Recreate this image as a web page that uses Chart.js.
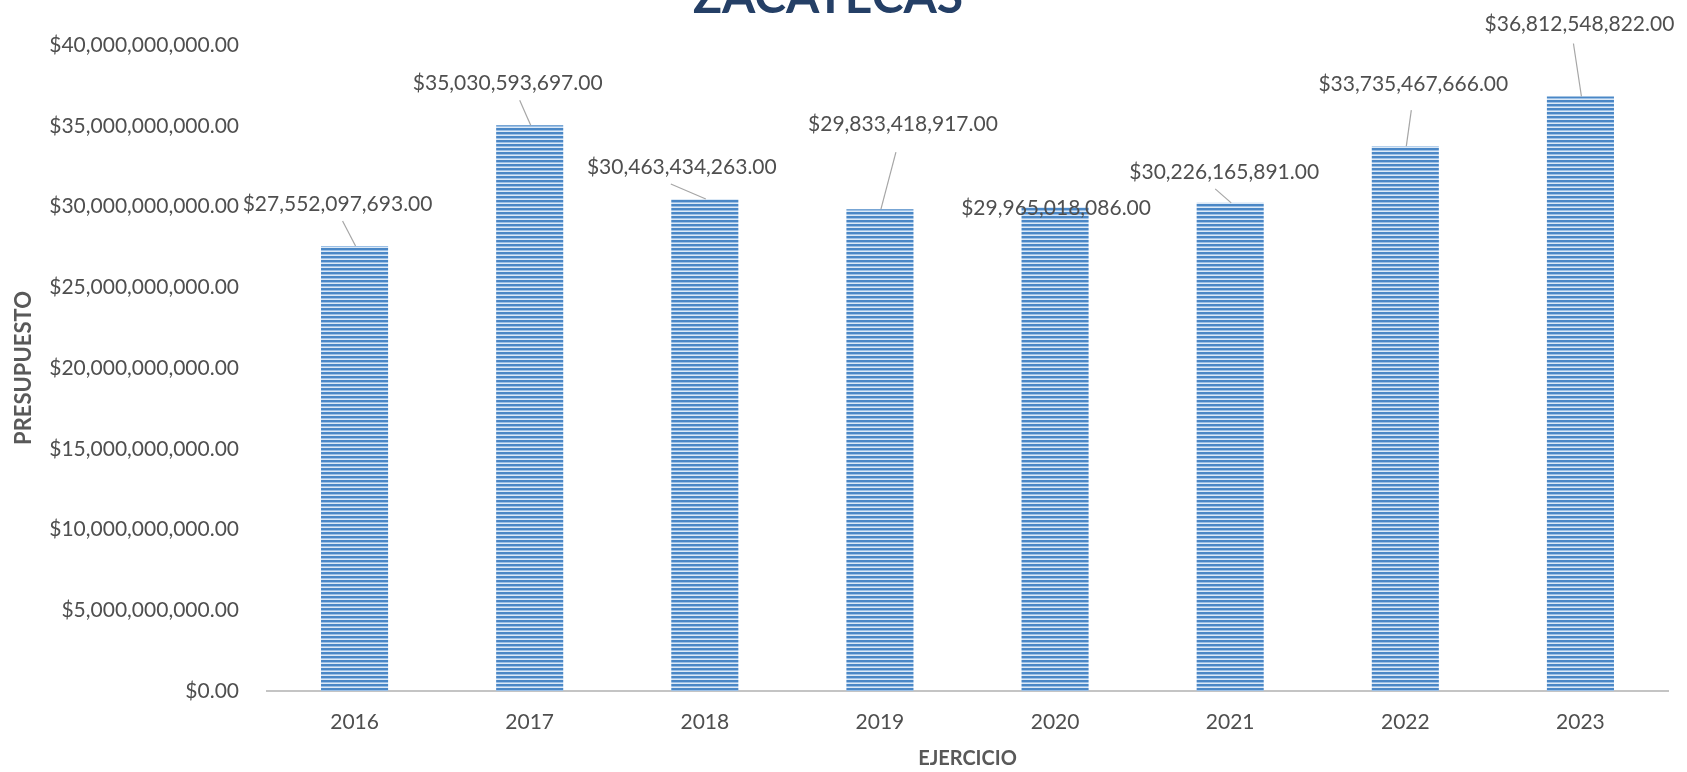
<!DOCTYPE html>
<html>
<head>
<meta charset="utf-8">
<script src="https://cdn.jsdelivr.net/npm/chart.js@4.4.1/dist/chart.umd.min.js"></script>
<style>
    body { margin: 0; background: #ffffff; }
    #root { width: 1687px; height: 772px; }
</style>
</head>
<body>
<div id="root"><canvas id="chart" width="1687" height="772"></canvas></div>
<script>
const chartTitle = "ZACATECAS";
const years = ["2016", "2017", "2018", "2019", "2020", "2021", "2022", "2023"];
const budget = [27552097693, 35030593697, 30463434263, 29833418917, 29965018086, 30226165891, 33735467666, 36812548822];
const yTicks = [0, 5e9, 10e9, 15e9, 20e9, 25e9, 30e9, 35e9, 40e9];

// label placement (px from the top centre of each bar), like the hand-moved excel labels
const labelDx = [-17, -22, -23, 23, 1, -6, 8, -1];
const labelDy = [-42, -42, -32, -85, 1, -31, -62, -72];
const leaderDx = [5, 12, -11, -7, 0, -9, -2, -6];
const leaderDy = [17, 17, 17, 28, 0, 17, 26, 19];
const hasLeader = [true, true, true, true, false, true, true, true];

const fontName = "Lato";
const textColor = "#4f4f4f";

function money(v){
    return "$" + v.toLocaleString("en-US", { minimumFractionDigits: 2, maximumFractionDigits: 2 });
}

function stripePattern(){
    const c = document.createElement("canvas");
    c.width = 4;
    c.height = 4;
    const g = c.getContext("2d");
    g.fillStyle = "#4a87c6"; g.fillRect(0, 0, 4, 2);
    g.fillStyle = "#9cc0e6"; g.fillRect(0, 2, 4, 1);
    g.fillStyle = "#dce9f6"; g.fillRect(0, 3, 4, 1);
    return g.createPattern(c, "repeat");
}

const titlePlugin = {
    id: "cutTitle",
    afterDraw(chart){
        const ctx = chart.ctx;
        ctx.save();
        ctx.font = "bold 48px " + fontName;
        ctx.fillStyle = "#243f66";
        ctx.textAlign = "center";
        ctx.textBaseline = "alphabetic";
        ctx.fillText(chartTitle, 828, 13);
        ctx.restore();
    }
};

const labelPlugin = {
    id: "barLabels",
    afterDatasetsDraw(chart){
        const ctx = chart.ctx;
        const bars = chart.getDatasetMeta(0).data;
        ctx.save();
        bars.forEach((bar, i) => {
            const lx = bar.x + labelDx[i];
            const ly = bar.y + labelDy[i];
            if (hasLeader[i]) {
                ctx.strokeStyle = "#a6a6a6";
                ctx.lineWidth = 1.2;
                ctx.beginPath();
                ctx.moveTo(lx + leaderDx[i], ly + leaderDy[i]);
                ctx.lineTo(bar.x + 1, bar.y);
                ctx.stroke();
            }
            ctx.font = "21px " + fontName;
            ctx.fillStyle = textColor;
            ctx.textAlign = "center";
            ctx.textBaseline = "middle";
            ctx.fillText(money(budget[i]), lx, ly);
        });
        ctx.restore();
    }
};

window.addEventListener("DOMContentLoaded", () => {
    const canvas = document.getElementById("chart");
    new Chart(canvas, {
        type: "bar",
        data: {
            labels: years,
            datasets: [{
                label: "Presupuesto",
                data: budget,
                backgroundColor: stripePattern(),
                borderWidth: 0,
                categoryPercentage: 1,
                barPercentage: 0.383
            }]
        },
        options: {
            responsive: false,
            animation: false,
            layout: { padding: { top: 45, right: 19, left: 0, bottom: 0 } },
            plugins: {
                legend: { display: false },
                tooltip: { enabled: false }
            },
            scales: {
                x: {
                    grid: { display: false, drawTicks: false },
                    border: { display: true, color: "#c4c4c4", width: 2 },
                    ticks: { color: textColor, font: { family: fontName, size: 21 }, padding: 19 },
                    title: { display: true, text: "EJERCICIO", color: "#595959",
                             font: { family: fontName, size: 20, weight: "bold" }, padding: { top: 0, bottom: 1 } },
                    afterFit(scale){ scale.height = 81; }
                },
                y: {
                    min: 0,
                    max: 40e9,
                    afterBuildTicks(scale){ scale.ticks = yTicks.map(v => ({ value: v })); },
                    grid: { display: false, drawTicks: false },
                    border: { display: false },
                    ticks: { color: textColor, font: { family: fontName, size: 21 }, padding: 28,
                             callback: v => money(v) },
                    title: { display: true, text: "PRESUPUESTO", color: "#595959",
                             font: { family: fontName, size: 22, weight: "bold" }, padding: { top: 11, bottom: 0 } },
                    afterFit(scale){ scale.width = 267; }
                }
            }
        },
        plugins: [labelPlugin, titlePlugin]
    });
});
</script>
</body>
</html>
